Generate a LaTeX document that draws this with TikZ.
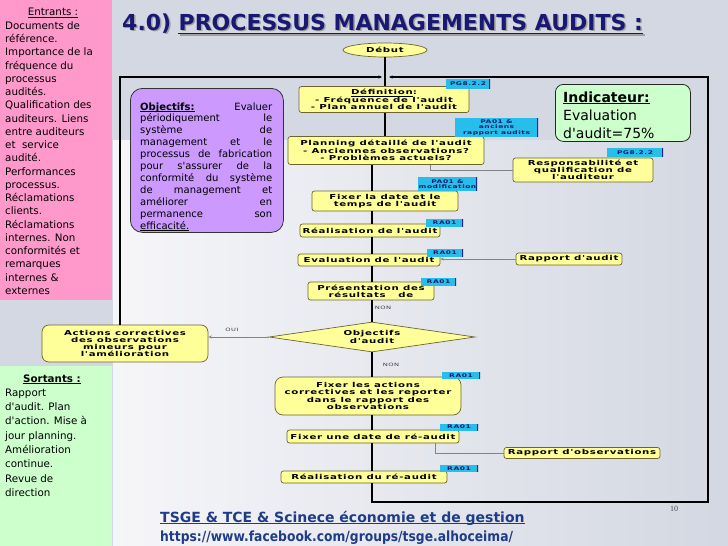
\documentclass[tikz,border=0pt]{standalone}
\usepackage{fontspec}
\setmainfont{DejaVu Sans}
\newfontfamily\pf{DejaVu Sans}
\newfontfamily\bx{DejaVu Sans Bold}[FakeStretch=1.5,LetterSpace=10]
\newfontfamily\bxr{DejaVu Sans}[FakeStretch=1.5,LetterSpace=10]
\newfontfamily\lser{Liberation Serif}
\usetikzlibrary{arrows.meta,shapes.geometric}
\newcommand{\myul}[1]{\leavevmode\setbox0=\hbox{#1}\rlap{\vrule height -0.08em depth 0.15em width \wd0}\box0}
\definecolor{bgtop}{RGB}{212,216,226}
\definecolor{bglow}{RGB}{246,246,249}
\definecolor{pinkp}{RGB}{255,153,204}
\definecolor{greenp}{RGB}{204,255,204}
\definecolor{boxfill}{RGB}{255,255,153}
\definecolor{boxline}{RGB}{110,100,50}
\definecolor{tagfill}{RGB}{40,190,235}
\definecolor{tagtext}{RGB}{20,30,110}
\definecolor{tagedge}{RGB}{25,40,130}
\definecolor{purp}{RGB}{204,153,255}
\definecolor{titlec}{RGB}{25,25,115}
\definecolor{urlc}{RGB}{31,60,136}
\definecolor{glinec}{RGB}{130,130,135}
\begin{document}
\pf
\begin{tikzpicture}[x=1pt,y=-1pt,
  fbox/.style={draw=boxline, fill=boxfill, rounded corners=2.5pt, line width=0.7pt, align=center, inner sep=0pt, font=\bx\fontsize{6.8}{7.2}\selectfont},
  tagbox/.style={fill=tagfill, inner sep=0pt, align=center, text=tagtext, font=\bx\fontsize{5}{5.4}\selectfont,
     path picture={\draw[tagedge,line width=2.4pt] (path picture bounding box.north east) -- (path picture bounding box.south east);}},
  flow/.style={draw=black, line width=1.1pt},
  gline/.style={draw=glinec, line width=1pt},
  tipa/.style={-{Stealth[length=3.5pt,width=3pt]}},
  tiny/.style={font=\bxr\fontsize{4.5}{5}\selectfont, inner sep=0pt, text=black!75},
  paneltext/.style={anchor=base west, inner sep=0pt, font=\fontsize{10.3}{13.25}\selectfont}
]
\useasboundingbox (0,0) rectangle (728,546);
\fill[bgtop] (0,0) rectangle (728,546);
\shade[left color=bglow, right color=bgtop] (113,140) rectangle (716,546);

% side panels
\fill[pinkp] (0,0) rectangle (112,300);
\fill[greenp] (0,366) rectangle (112,546);
\node[paneltext, anchor=base] (enth) at (53,16) {\myul{Entrants :}};
\node[paneltext] (entb) at (5,29.3) {\parbox[t]{107pt}{\fontsize{10.3}{13.25}\selectfont\raggedright
Documents de\\référence.\\Importance de la\\fréquence du\\processus\\audités.\\Qualification des\\auditeurs. Liens\\entre auditeurs\\et~ service\\audité.\\Performances\\processus.\\Réclamations\\clients.\\Réclamations\\internes. Non\\conformités et\\remarques\\internes \&\\externes}};
\node[paneltext, anchor=base, font=\bfseries\fontsize{10.3}{14.3}\selectfont] (sorh) at (52,382) {\myul{Sortants :}};
\node[paneltext] (sorb) at (5,396.3) {\parbox[t]{107pt}{\fontsize{10.3}{14.3}\selectfont\raggedright
Rapport\\d'audit. Plan\\d'action. Mise à\\jour planning.\\Amélioration\\continue.\\Revue de\\direction}};

% title
\node[anchor=base west, inner sep=0pt, text=gray!75, font=\bfseries\fontsize{22}{26}\selectfont] (ts1) at (123.5,31.5) {4.0)};
\node[anchor=base west, inner sep=0pt, text=gray!75, font=\bfseries\fontsize{22}{26}\selectfont] (ts2) at ([xshift=7pt]ts1.base east) {PROCESSUS MANAGEMENTS AUDITS :};
\draw[gray!75, line width=1.8pt] ([yshift=-3.5pt]ts2.base west) -- ([yshift=-3.5pt]ts2.base east);
\node[anchor=base west, inner sep=0pt, text=titlec, font=\bfseries\fontsize{22}{26}\selectfont] (t1) at (122,30) {4.0)};
\node[anchor=base west, inner sep=0pt, text=titlec, font=\bfseries\fontsize{22}{26}\selectfont] (t2) at ([xshift=7pt]t1.base east) {PROCESSUS MANAGEMENTS AUDITS :};
\draw[titlec, line width=1.8pt] ([yshift=-3.5pt]t2.base west) -- ([yshift=-3.5pt]t2.base east);

% purple objectives box
\node[draw=black!80, fill=purp, rounded corners=12pt, line width=0.8pt, anchor=north west, minimum width=153pt, minimum height=144pt, inner sep=0pt] (obj) at (130,88) {};
\node[anchor=base west, inner sep=0pt] (objt) at (140,110) {\parbox[t]{132pt}{\fontsize{10}{11.9}\selectfont
\makebox[132pt][s]{\textbf{\myul{Objectifs:}} Evaluer}\\
\makebox[132pt][s]{périodiquement le}\\
\makebox[132pt][s]{système de}\\
\makebox[132pt][s]{management et le}\\
\makebox[132pt][s]{processus de fabrication}\\
\makebox[132pt][s]{pour s'assurer de la}\\
\makebox[132pt][s]{conformité du système}\\
\makebox[132pt][s]{de management et}\\
\makebox[132pt][s]{améliorer en}\\
\makebox[132pt][s]{permanence son}\\
\myul{efficacité.}}};

% indicator box
\node[draw=black!85, fill=greenp, rounded corners=8pt, line width=0.8pt, anchor=north west, minimum width=135pt, minimum height=57pt, inner sep=0pt] (ind) at (555,84) {};
\node[anchor=base west, inner sep=0pt] (indt) at (563,102) {\parbox[t]{125pt}{\fontsize{14}{18}\selectfont
\textbf{\myul{Indicateur:}}\\Evaluation\\d'audit=75\%}};

% coordinates for the flow lines
\coordinate (LA) at (385,0);
\coordinate (LB) at (372,0);
\coordinate (TL) at (120,77);
\coordinate (TR) at (708,77);
\coordinate (BR) at (708,502);
\coordinate (RX) at (430,0);
\coordinate (OX) at (435,0);

% flow nodes
\node[fbox, ellipse, rounded corners=0pt, minimum width=84pt, minimum height=14pt] (debut) at (385,50) {Début};
\node[fbox, minimum width=170pt, minimum height=26pt] (def) at (384,99.5) {\myul{Définition}:\\- Fréquence de l'audit\\- Plan annuel de l'audit};
\node[fbox, minimum width=196pt, minimum height=28pt] (plan) at (386,150.5) {Planning détaillé de l'audit\\- Anciennes observations?\\- Problèmes actuels?};
\node[fbox, minimum width=140pt, minimum height=24pt] (resp) at (583,170) {Responsabilité et\\qualification de\\l'auditeur};
\node[fbox, minimum width=146pt, minimum height=20pt] (fixd) at (385,201) {Fixer la date et le\\temps de l'audit};
\node[fbox, minimum width=140pt, minimum height=13pt] (real) at (370,230.5) {Réalisation de l'audit};
\node[fbox, minimum width=142pt, minimum height=12pt] (eval) at (369,260) {Evaluation de l'audit};
\node[fbox, minimum width=106pt, minimum height=12pt] (rapa) at (569,259) {Rapport d'audit};
\node[fbox, minimum width=126pt, minimum height=18pt] (pres) at (371,291) {Présentation des\\résultats~~ de};
\node[fbox, diamond, aspect=6.8, rounded corners=0pt, minimum width=206pt, minimum height=30pt] (diam) at (372,337) {Objectifs\\d'audit};
\node[fbox, rounded corners=7pt, minimum width=166pt, minimum height=37pt] (act) at (125,343.5) {Actions correctives\\des observations\\mineurs pour\\l'amélioration};
\node[fbox, rounded corners=8pt, minimum width=186pt, minimum height=38pt] (fixa) at (368,396) {Fixer les actions\\correctives et les reporter\\dans le rapport des\\observations};
\node[fbox, minimum width=172pt, minimum height=13pt] (fixu) at (373,436.5) {Fixer une date de ré-audit};
\node[fbox, minimum width=156pt, minimum height=11pt] (rapo) at (582,453) {Rapport d'observations};
\node[fbox, minimum width=166pt, minimum height=12pt] (reau) at (364,477) {Réalisation du ré-audit};

% tags
\node[tagbox, minimum width=44pt, minimum height=10pt] (tg1) at (468,84) {PG8.2.2};
\node[tagbox, minimum width=83pt, minimum height=19pt] (tg2) at (496.5,127.5) {PA01 \&\\anciens\\rapport audits};
\node[tagbox, minimum width=56pt, minimum height=9pt] (tg3) at (635,152.5) {PG8.2.2};
\node[tagbox, minimum width=59pt, minimum height=14pt] (tg4) at (447.5,184) {PA01 \&\\modification};
\node[tagbox, minimum width=37pt, minimum height=8pt] (tg5) at (444.5,223) {RA01};
\node[tagbox, minimum width=36pt, minimum height=8pt] (tg6) at (445,253) {RA01};
\node[tagbox, minimum width=35pt, minimum height=8pt] (tg7) at (438.5,282) {RA01};
\node[tagbox, minimum width=38pt, minimum height=7pt] (tg8) at (461,375.5) {RA01};
\node[tagbox, minimum width=38pt, minimum height=7pt] (tg9) at (459,427) {RA01};
\node[tagbox, minimum width=38pt, minimum height=7pt] (tg10) at (459,468.5) {RA01};

% main flow connectors
\draw[flow] (debut.south -| LA) -- (def.north -| LA);
\draw[flow] (def.south -| LA) -- (plan.north -| LA);
\draw[flow] (plan.south -| LB) -- (fixd.north -| LB);
\draw[flow] (fixd.south -| LB) -- (real.north -| LB);
\draw[flow] (real.south -| LB) -- (eval.north -| LB);
\draw[flow] (eval.south -| LB) -- (pres.north -| LB);
\draw[flow] (pres.south -| LB) -- (diam.north);
\draw[flow] (diam.south) -- (fixa.north -| LB);
\draw[flow] (fixa.south -| LB) -- (fixu.north -| LB);
\draw[flow] (fixu.south -| LB) -- (reau.north -| LB);
\draw[flow, tipa] (reau.south -| LB) |- (BR) -- (TR) -- ([xshift=4pt]TR -| LA);
\draw[flow, tipa] (act.north -| TL) -- (TL) -- ([xshift=-3pt]TL -| LA);

% side connectors
\draw[gline] (plan.south -| RX) |- (resp.west);
\draw[gline, tipa] (rapa.west) -- (rapa.west -| eval.east);
\draw[gline, tipa] (diam.west) -- (diam.west -| act.east);
\draw[gline] (fixu.south -| OX) |- (rapo.west);

% labels
\node[tiny] (oui) at (232,330) {OUI};
\node[tiny] (non1) at (383,308) {NON};
\node[tiny] (non2) at (391,365) {NON};
\node[anchor=base, inner sep=0pt, font=\lser\fontsize{8}{9}\selectfont, text=black!70] (pnum) at (674,511) {10};

% footer
\node[anchor=base west, inner sep=0pt, text=urlc, font=\bfseries\fontsize{14}{16}\selectfont] (url1) at (160,522) {\myul{TSGE \& TCE \& Scinece économie et de gestion}};
\node[anchor=base west, inner sep=0pt, text=urlc, font=\bfseries\fontsize{14}{16}\selectfont] (url2) at (160,541) {\scalebox{0.88}[1]{https://www.facebook.com/groups/tsge.alhoceima/}};
\end{tikzpicture}
\end{document}
